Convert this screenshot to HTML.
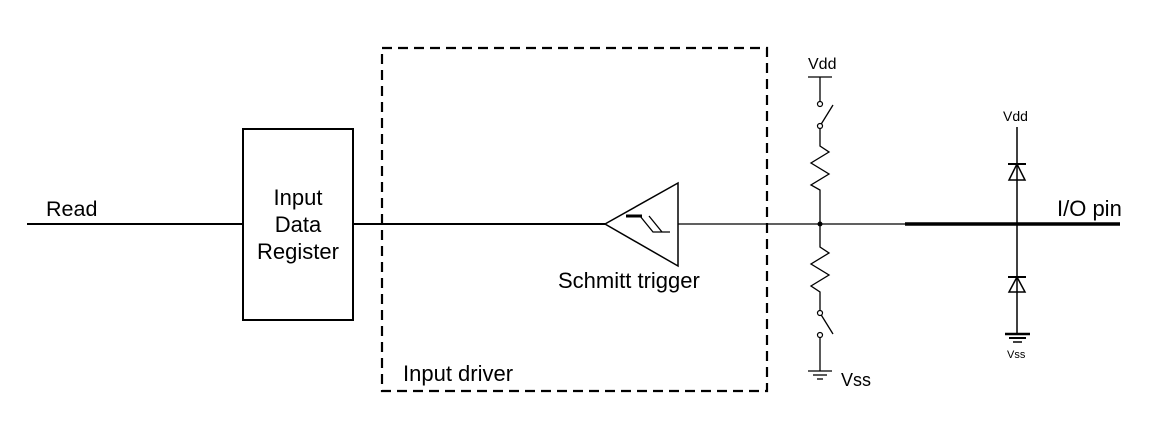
<!DOCTYPE html>
<html><head><style>body{margin:0;background:#fff}svg{display:block}text{font-family:"Liberation Sans",sans-serif;fill:#000}</style></head>
<body>
<svg width="1161" height="435" viewBox="0 0 1161 435">
<g stroke="#000" fill="none" stroke-width="2">
<line x1="27" y1="224" x2="243" y2="224"/>
<rect x="243" y="129" width="110" height="191"/>
<line x1="353" y1="224" x2="605" y2="224" />
<rect x="382" y="48" width="385" height="343" stroke-dasharray="10,6" stroke-width="2.2"/>
<polygon points="605,224 678,183 678,266" stroke-width="1.5"/>
<line x1="626" y1="216" x2="642" y2="216" stroke-width="3"/>
<polyline points="640,216 653,232 670,232" stroke-width="1.3"/>
<line x1="649" y1="216" x2="662" y2="232" stroke-width="1.3"/>
<line x1="678" y1="224" x2="905" y2="224" stroke-width="1.3"/>
<line x1="905" y1="224" x2="1120" y2="224" stroke-width="3.5"/>
<line x1="808" y1="77" x2="832" y2="77" stroke-width="1.3"/>
<line x1="820" y1="77" x2="820" y2="103" stroke-width="1.3"/>
<line x1="820" y1="126" x2="833" y2="105" stroke-width="1.3"/>
<polyline points="820,126 820,146 829,152 811,163 829,174 811,185 820,190 820,247 829,253 811,264 829,275 811,286 820,292 820,313" stroke-width="1.3"/>
<line x1="820" y1="313" x2="833" y2="334" stroke-width="1.3"/>
<line x1="820" y1="335" x2="820" y2="371" stroke-width="1.3"/>
<line x1="808" y1="371" x2="832" y2="371" stroke-width="1.3"/>
<line x1="813" y1="375" x2="827" y2="375" stroke-width="1.3"/>
<line x1="817" y1="379" x2="823" y2="379" stroke-width="1.3"/>
<line x1="1017" y1="127" x2="1017" y2="333" stroke-width="1.5"/>
<line x1="1008" y1="164" x2="1026" y2="164"/>
<polygon points="1017,164 1009,180 1025,180" stroke-width="1.5"/>
<line x1="1008" y1="277" x2="1026" y2="277"/>
<polygon points="1017,277 1009,292 1025,292" stroke-width="1.5"/>
<line x1="1005" y1="334" x2="1030" y2="334" stroke-width="2.5"/>
<line x1="1009" y1="338" x2="1026" y2="338" stroke-width="2"/>
<line x1="1013" y1="342" x2="1022" y2="342" stroke-width="1.5"/>
</g>
<g fill="#fff" stroke="#000" stroke-width="1.2">
<circle cx="820" cy="104" r="2.5"/><circle cx="820" cy="126" r="2.5"/>
<circle cx="820" cy="313" r="2.5"/><circle cx="820" cy="335" r="2.5"/>
</g>
<circle cx="820" cy="224" r="2.5" fill="#000"/>
<text x="46" y="216" font-size="21.5">Read</text>
<text x="298" y="205" font-size="22" text-anchor="middle">Input</text>
<text x="298" y="232" font-size="22" text-anchor="middle">Data</text>
<text x="298" y="259" font-size="22" text-anchor="middle">Register</text>
<text x="558" y="288" font-size="22">Schmitt trigger</text>
<text x="403" y="381" font-size="22">Input driver</text>
<text x="808" y="69" font-size="16">Vdd</text>
<text x="841" y="386" font-size="18">Vss</text>
<text x="1003" y="121" font-size="14">Vdd</text>
<text x="1007" y="358" font-size="11">Vss</text>
<text x="1057" y="216" font-size="22">I/O pin</text>
</svg>
</body></html>
